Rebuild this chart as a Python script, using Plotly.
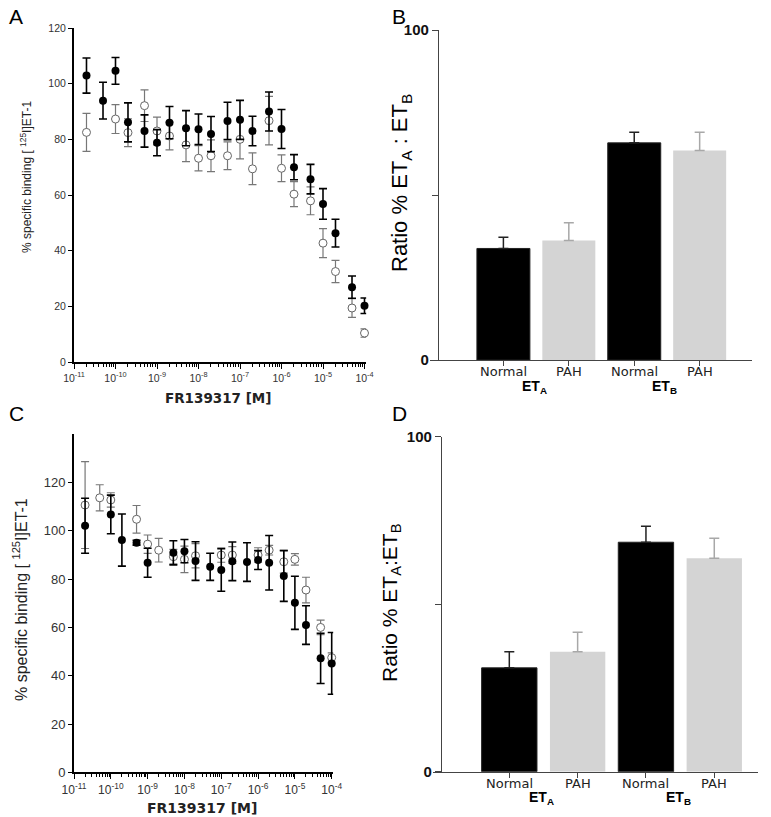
import plotly.graph_objects as go

W, H = 771, 817
OFF = 8  # the page body adds an 8px margin; compensate so positions match the window
FONT = "Liberation Sans, Arial, sans-serif"
WIDE = "DejaVu Sans, sans-serif"

# ---------------- data ----------------
conc = [2e-11, 5e-11, 1e-10, 2e-10, 5e-10, 1e-9, 2e-9, 5e-9, 1e-8, 2e-8, 5e-8,
        1e-7, 2e-7, 5e-7, 1e-6, 2e-6, 5e-6, 1e-5, 2e-5, 5e-5, 1e-4]

# Panel A
a_filled = [102.9, 93.9, 104.6, 86.1, 83.0, 78.8, 86.0, 84.0, 83.6, 81.9, 86.6,
            87.0, 83.0, 90.0, 83.7, 70.0, 65.7, 56.8, 46.3, 26.9, 20.2]
a_filled_err = [6.3, 6.6, 4.8, 7.0, 5.8, 4.7, 5.8, 6.3, 5.5, 6.3, 6.7,
                7.0, 5.3, 7.0, 7.0, 4.5, 5.3, 5.5, 5.0, 4.0, 2.8]
a_open = [82.5, None, 87.3, 82.4, 92.1, 83.0, 81.2, 78.0, 73.2, 74.1, 74.1,
          80.0, 69.4, 86.7, 69.6, 60.3, 57.9, 42.7, 32.5, 19.4, 10.4]
a_open_err = [6.8, 0, 5.2, 5.0, 5.7, 5.0, 5.0, 6.0, 4.5, 5.7, 5.0,
              7.0, 5.7, 8.7, 4.8, 4.5, 5.0, 5.2, 4.0, 3.4, 1.5]

# Panel C
c_filled = [102.1, None, 106.8, 96.2, 95.1, 86.8, None, 90.9, 91.6, 87.5, 85.1,
            83.8, 87.4, 87.1, 87.9, 86.8, 81.3, 70.2, 61.0, 47.2, 45.1]
c_filled_err = [11.4, 0, 8.0, 10.8, 1.0, 6.0, 0, 5.0, 4.8, 8.0, 5.6,
                8.8, 8.0, 8.0, 3.9, 11.3, 10.5, 11.0, 8.0, 10.4, 12.8]
c_open = [110.7, 113.7, 112.8, None, 104.8, 94.5, 92.0, 89.3, 88.2, 89.7, None,
          90.0, 90.0, None, 90.0, 92.0, 87.2, 88.2, 75.5, 60.0, 47.5]
c_open_err = [18.0, 5.4, 3.0, 0, 5.7, 3.8, 4.9, 3.0, 5.5, 5.0, 0,
              3.0, 3.5, 0, 3.0, 2.0, 4.7, 2.4, 5.3, 3.0, 2.0]

decade_vals = [1e-11, 1e-10, 1e-9, 1e-8, 1e-7, 1e-6, 1e-5, 1e-4]
decade_text = ["10<sup>-11</sup>", "10<sup>-10</sup>", "10<sup>-9</sup>", "10<sup>-8</sup>",
               "10<sup>-7</sup>", "10<sup>-6</sup>", "10<sup>-5</sup>", "10<sup>-4</sup>"]

# Bar panels
bar_labels = ["Normal", "PAH", "Normal", "PAH"]
bar_pos = [1, 2, 3, 4]
receptors = ["ET<sub>A</sub>", "ET<sub>B</sub>"]
b_normal = [33.8, 65.8]
b_normal_err = [3.4, 3.2]
b_pah = [36.2, 63.5]
b_pah_err = [5.4, 5.5]
d_normal = [31.0, 68.5]
d_normal_err = [4.8, 4.8]
d_pah = [35.8, 63.7]
d_pah_err = [5.8, 6.0]

# ---------------- helpers ----------------
def px_x(p):
    return (p - OFF) / W

def px_y(p):
    return 1 - (p - OFF) / H

minor_vals = [k * d for d in decade_vals[:-1] for k in range(2, 10)]

fig = go.Figure()

def add_scatter(xa, ya, filled, filled_err, open_, open_err):
    fig.add_trace(go.Scatter(
        x=conc, y=open_, mode="markers", xaxis=xa, yaxis=ya, cliponaxis=False,
        marker=dict(symbol="circle", size=8, color="white", line=dict(color="#666", width=1)),
        error_y=dict(type="data", array=open_err, visible=True, color="#777", thickness=1.2, width=4),
        showlegend=False))
    fig.add_trace(go.Scatter(
        x=conc, y=filled, mode="markers", xaxis=xa, yaxis=ya, cliponaxis=False,
        marker=dict(symbol="circle", size=8, color="black"),
        error_y=dict(type="data", array=filled_err, visible=True, color="black", thickness=1.6, width=4),
        showlegend=False))

add_scatter("x", "y", a_filled, a_filled_err, a_open, a_open_err)
add_scatter("x3", "y3", c_filled, c_filled_err, c_open, c_open_err)

def add_bars(xa, ya, normal, normal_err, pah, pah_err):
    fig.add_trace(go.Bar(
        x=bar_pos[0::2], y=normal, xaxis=xa, yaxis=ya, width=0.81,
        marker=dict(color="black", line=dict(color="#222", width=1)),
        error_y=dict(type="data", array=normal_err, symmetric=False, arrayminus=[0, 0],
                     color="#222", thickness=1.5, width=5),
        showlegend=False))
    fig.add_trace(go.Bar(
        x=bar_pos[1::2], y=pah, xaxis=xa, yaxis=ya, width=0.81,
        marker=dict(color="#d4d4d4", line=dict(width=0)),
        error_y=dict(type="data", array=pah_err, symmetric=False, arrayminus=[0, 0],
                     color="#a8a8a8", thickness=1.5, width=5),
        showlegend=False))

add_bars("x2", "y2", b_normal, b_normal_err, b_pah, b_pah_err)
add_bars("x4", "y4", d_normal, d_normal_err, d_pah, d_pah_err)

EXT = 0.04  # small extension beyond 10^-4 so the last points are drawn

def log_xaxis(x0, x1, anchor, fs):
    dec = (x1 - x0) / 7.0
    return dict(type="log", range=[-11, -4 + EXT], domain=[px_x(x0), px_x(x1 + EXT * dec)],
                anchor=anchor, automargin=False,
                showline=True, linecolor="black", linewidth=2, ticks="outside", ticklen=5,
                tickwidth=1.2, tickcolor="black", tickmode="array", tickvals=decade_vals,
                ticktext=decade_text, tickfont=dict(size=fs, color="#333", family=FONT),
                minor=dict(tickmode="array", tickvals=minor_vals, ticks="outside", ticklen=3,
                           tickcolor="black", tickwidth=1, showgrid=False),
                showgrid=False, zeroline=False)

def lin_yaxis(top, bot, anchor, rng, vals, fs):
    return dict(range=rng, domain=[px_y(bot), px_y(top)], anchor=anchor, automargin=False,
                showline=True, linecolor="black", linewidth=2, ticks="outside", ticklen=4,
                tickcolor="black", tickvals=vals, tickfont=dict(size=fs, color="#333", family=FONT),
                showgrid=False, zeroline=False)

def bar_xaxis(x0, x1, rng, anchor):
    return dict(range=rng, domain=[px_x(x0), px_x(x1)], anchor=anchor, automargin=False,
                showline=True, linecolor="#444", linewidth=1.3, ticks="outside", ticklen=5,
                tickcolor="#444", tickvals=bar_pos, showticklabels=False,
                showgrid=False, zeroline=False)

def bar_yaxis(top, bot, pos):
    return dict(range=[0, 100], domain=[px_y(bot), px_y(top)], anchor="free", position=px_x(pos),
                automargin=False,
                showline=True, linecolor="#444", linewidth=1.3, ticks="outside", ticklen=6,
                tickcolor="#444", tickvals=[0, 50, 100], ticktext=["<b>0</b>", "", "<b>100</b>"],
                tickfont=dict(size=15, color="#111", family=FONT),
                showgrid=False, zeroline=False)

layout = dict(
    width=W, height=H, autosize=False,
    margin=dict(l=0, r=0, t=0, b=0, pad=0, autoexpand=False),
    paper_bgcolor="white", plot_bgcolor="rgba(0,0,0,0)",
    barmode="overlay", showlegend=False,
    font=dict(family=FONT, color="black"),
    xaxis=log_xaxis(74, 364.5, "y", 10.5),
    yaxis=lin_yaxis(28, 362, "x", [0, 120], [0, 20, 40, 60, 80, 100, 120], 10.5),
    xaxis3=log_xaxis(74, 331.7, "y3", 12),
    yaxis3=lin_yaxis(434.3, 772.3, "x3", [0, 140], [0, 20, 40, 60, 80, 100, 120], 13),
    xaxis2=bar_xaxis(430, 752, [-0.122, 4.8], "y2"),
    yaxis2=bar_yaxis(30, 360, 438),
    xaxis4=bar_xaxis(433, 758, [-0.117, 4.64], "y4"),
    yaxis4=bar_yaxis(436.7, 771.7, 441),
)
fig.update_layout(**layout)

ann = []
def text(x, y, s, size, angle=0, xref="paper", bold=False, color="black", family=FONT):
    ann.append(dict(x=x if xref != "paper" else px_x(x), y=px_y(y), xref=xref, yref="paper",
                    text=("<b>%s</b>" % s) if bold else s, showarrow=False, textangle=angle,
                    font=dict(size=size, family=family, color=color),
                    xanchor="center", yanchor="middle"))

# panel letters
text(16, 16, "A", 21)
text(399, 16, "B", 21)
text(16, 414, "C", 21)
text(399, 414, "D", 21)

# scatter axis titles
text(26, 177, "% specific binding [ <sup>125</sup>I]ET-1", 12, angle=-90, color="#222")
text(218, 398, "FR139317 [M]", 13.5, bold=True, color="#222", family=WIDE)
text(20, 600, "% specific binding [ <sup>125</sup>I]ET-1", 16, angle=-90, color="#222")
text(202, 808, "FR139317 [M]", 14, bold=True, color="#222", family=WIDE)

# bar axis titles
text(401, 183, "Ratio % ET<sub>A</sub> : ET<sub>B</sub>", 22, angle=-90)
text(391, 603, "Ratio % ET<sub>A</sub>:ET<sub>B</sub>", 21, angle=-90)

# bar category labels and group labels
for xa, ylab, ygrp in (("x2", 371, 387), ("x4", 783, 798)):
    for p, lab in zip(bar_pos, bar_labels):
        text(p, ylab, lab, 13, xref=xa, color="#222", family=WIDE)
    for i, r in enumerate(receptors):
        text(1.47 + 2 * i, ygrp, r, 14, xref=xa, bold=True)

fig.update_layout(annotations=ann)
fig.write_html("out.html")
